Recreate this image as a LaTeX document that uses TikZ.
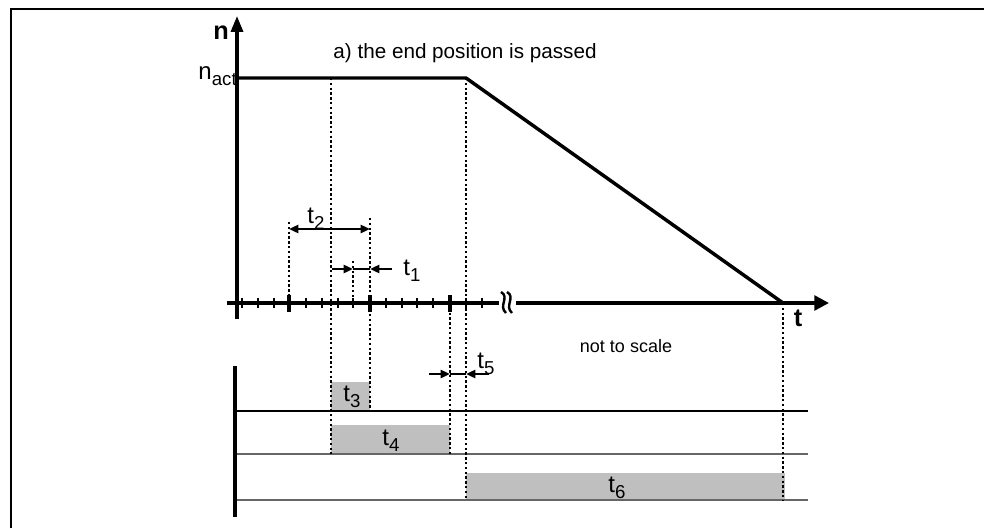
\documentclass[tikz,border=0pt]{standalone}
\usepackage{fontspec}
\setmainfont{Liberation Sans}
\usetikzlibrary{arrows.meta}
\newcommand{\mysub}[2]{#1\raisebox{-0.45ex}{\fontsize{14}{15}\selectfont #2}}
\begin{document}
\begin{tikzpicture}[x=0.75pt,y=-0.75pt,
  axis/.style={line width=2.6pt},
  thickline/.style={line width=2.6pt},
  dotline/.style={line width=2.1pt,dash pattern=on 1.8pt off 1.8pt},
  dimline/.style={line width=1.8pt},
  dimarrow/.style={-{Triangle[length=7pt,width=6pt]},line width=1.8pt},
  rowline/.style={line width=1.4pt,color=black!60},
  bar/.style={fill=black!25,draw=none},
  lbl/.style={font=\fontsize{18}{20}\selectfont,inner sep=0pt},
  smalltick/.style={line width=2pt},
  bigtick/.style={line width=2.4pt}]
\useasboundingbox (0,0) rectangle (984,528);
% frame
\draw[line width=1.6pt] (11,528) -- (11,9) -- (984,9);
% coordinates
\coordinate (O) at (237,303);
\coordinate (ytop) at (237,16);
\coordinate (ybot) at (237,319);
\coordinate (xl) at (227,303);
\coordinate (xr) at (829,303);
\coordinate (nact) at (237,78);
\coordinate (fall) at (466,78);
\coordinate (stop) at (783,303);
% bars
\draw[bar] (331,382) rectangle (370,411);
\draw[bar] (331,425) rectangle (450,454);
\draw[bar] (466,473) rectangle (785,500);
% row lines
\draw[line width=1.1pt] (235,411) -- (808,411);
\draw[rowline] (235,454) -- (808,454);
\draw[rowline] (235,500) -- (808,500);
\draw[line width=2.6pt] (235,366) -- (235,517);
% axes
\draw[axis,-{Triangle[length=12pt,width=9pt]}] (ybot) -- (ytop);
\draw[axis,-{Triangle[length=11pt,width=11pt]}] (xl) -- (xr);
% ticks
\foreach \x in {242,258,274,306,322,338,353,386,402,417,433,466,482}
  \draw[smalltick] (\x,298) -- (\x,308);
\foreach \x in {289,370,450}
  \draw[bigtick] (\x,295) -- (\x,312);
% break symbol
\fill[white] (499,296) rectangle (516,310);
\draw[line width=1.8pt] (501,292) .. controls (510,297) and (498,306) .. (506,313);
\draw[line width=1.8pt] (507,292) .. controls (516,297) and (504,306) .. (512,313);
% curve
\draw[thickline] (nact) -- (fall) -- (stop);
% dotted lines
\draw[dotline] (289,222) -- (289,303);
\draw[dotline] (331,78) -- (331,454);
\draw[dotline] (370,218) -- (370,411);
\draw[dotline] (353,261) -- (353,303);
\draw[dotline] (450,303) -- (450,454);
\draw[dotline] (466,78) -- (466,500);
\draw[dotline] (783,303) -- (783,500);
% labels
\node[font=\fontsize{19}{20}\selectfont\bfseries,inner sep=0pt] (nlab) at (221,33) {n};
\node[font=\fontsize{19}{20}\selectfont\bfseries,inner sep=0pt] (tlab) at (798,318) {t};
\node[lbl,anchor=east] (nactlab) at (237,76) {\mysub{n}{act}};
\node[font=\fontsize{15.5}{18}\selectfont,inner sep=0pt] (title) at (465,53) {a) the end position is passed};
\node[font=\fontsize{13.5}{16}\selectfont,inner sep=0pt] (nts) at (626,346) {not to scale};
% t2
\coordinate (t2a) at (289,229);
\coordinate (t2b) at (370,229);
\draw[dimline,{Triangle[length=7pt,width=6pt]}-{Triangle[length=7pt,width=6pt]}] (t2a) -- (t2b);
\node[lbl] (t2) at (316,219) {\mysub{t}{2}};
% t1
\coordinate (t1l) at (332,269);
\coordinate (t1a) at (353,269);
\coordinate (t1b) at (370,269);
\coordinate (t1r) at (392,269);
\draw[dimarrow] (t1l) -- (t1a);
\draw[dimline] (t1a) -- (t1b);
\draw[dimarrow] (t1r) -- (t1b);
\node[lbl] (t1) at (412,271) {\mysub{t}{1}};
% t5
\coordinate (t5l) at (429,374);
\coordinate (t5a) at (450,374);
\coordinate (t5b) at (466,374);
\coordinate (t5r) at (489,374);
\draw[dimarrow] (t5l) -- (t5a);
\draw[dimline] (t5a) -- (t5b);
\draw[dimarrow] (t5r) -- (t5b);
\node[lbl] (t5) at (486,364) {\mysub{t}{5}};
% bar labels
\node[lbl] (t3) at (352,397) {\mysub{t}{3}};
\node[lbl] (t4) at (391,441) {\mysub{t}{4}};
\node[lbl] (t6) at (617,488) {\mysub{t}{6}};
\end{tikzpicture}
\end{document}
